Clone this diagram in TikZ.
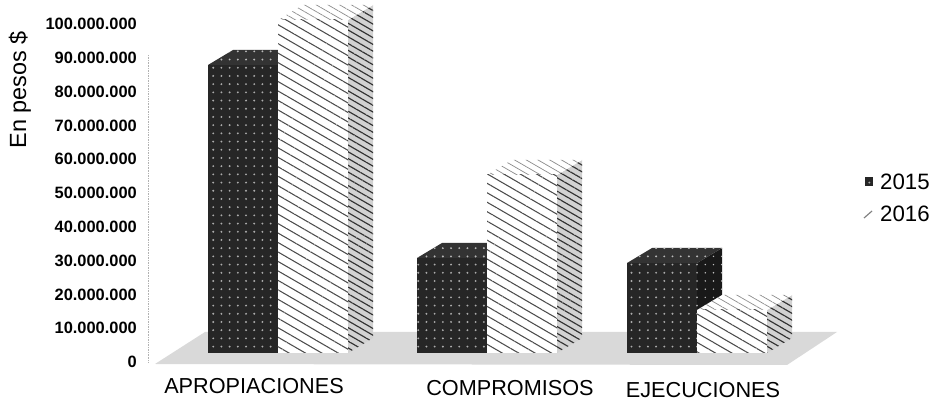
\documentclass[tikz,border=0pt]{standalone}
\usepackage{fontspec}
\setmainfont{Liberation Sans}
\usetikzlibrary{patterns.meta}

\tikzset{
    darkfront/.style={fill=black!85, postaction={pattern={Dots[distance=7pt,radius=0.9pt]}, pattern color=gray!65}},
    darktop/.style={fill=black!80, postaction={pattern={Dots[distance=7pt,radius=0.9pt]}, pattern color=gray!55}},
    darkside/.style={fill=black!90, postaction={pattern={Dots[distance=7pt,radius=0.7pt]}, pattern color=gray!50}},
    hatchfront/.style={fill=white, postaction={pattern={Lines[angle=-30,distance=7pt,line width=0.9pt]}, pattern color=black!70}},
    hatchtop/.style={fill=white, postaction={pattern={Lines[angle=-30,distance=5pt,line width=0.6pt]}, pattern color=black!45}},
    hatchside/.style={fill=gray!35, postaction={pattern={Lines[angle=-30,distance=5pt,line width=1pt]}, pattern color=black!80}},
    ticklabel/.style={font=\fontsize{14}{16}\selectfont\bfseries, anchor=east, inner sep=0pt},
    catlabel/.style={font=\fontsize{18.5}{20}\selectfont, inner sep=0pt},
    legendlabel/.style={font=\fontsize{19}{21}\selectfont, anchor=west, inner sep=0pt}
}

\begin{document}
\begin{tikzpicture}[x=0.03cm, y=-0.03cm]
    \useasboundingbox (0,0) rectangle (942,404);

    % 1. Define Coordinates
    \coordinate (AxTop) at (148,55);
    \coordinate (AxBot) at (148,362);

    % 2. Value Axis and its Labels
    \draw[gray!60, densely dotted] (AxTop) -- (AxBot);
    \foreach \v [count=\k from 0] in {0,10.000.000,20.000.000,30.000.000,40.000.000,50.000.000,60.000.000,70.000.000,80.000.000,90.000.000,100.000.000}
        \node[ticklabel] (T\k) at (137,{362-33.8*\k}) {\v};
    \node[rotate=90, font=\fontsize{20}{22}\selectfont, inner sep=0pt] (Title) at (20,90) {En pesos \$};

    % 3. Draw the Floor
    \fill[gray!30] (155,364) -- (787,365) -- (837,332) -- (205,332) -- cycle;

    % 4. Draw the 2015 Bars (front x, top y)
    \foreach \x/\t in {208/65, 417/258, 627/263} {
        \path[darkside] (\x+70,\t) -- (\x+95,\t-15) -- (\x+95,338) -- (\x+70,353) -- cycle;
        \path[darktop] (\x,\t) -- (\x+70,\t) -- (\x+95,\t-15) -- (\x+25,\t-15) -- cycle;
        \path[darkfront] (\x,\t) rectangle (\x+70,353);
    }

    % 5. Draw the 2016 Bars beside them
    \foreach \x/\t in {278/20, 487/175, 697/310} {
        \path[hatchside] (\x+70,\t) -- (\x+95,\t-15) -- (\x+95,338) -- (\x+70,353) -- cycle;
        \path[hatchtop] (\x,\t) -- (\x+70,\t) -- (\x+95,\t-15) -- (\x+25,\t-15) -- cycle;
        \path[hatchfront] (\x,\t) rectangle (\x+70,353);
    }

    % 6. Add Category Labels
    \node[catlabel] (Apr) at (254,386) {APROPIACIONES};
    \node[catlabel] (Com) at (510,388) {COMPROMISOS};
    \node[catlabel] (Eje) at (703,390) {EJECUCIONES};

    % 7. Legend
    \path[darkfront] (865,177) rectangle (873,186);
    \draw[gray, line width=1pt] (864,218) -- (872,211);
    \node[legendlabel] (L15) at (880,182) {2015};
    \node[legendlabel] (L16) at (880,214) {2016};

\end{tikzpicture}
\end{document}
